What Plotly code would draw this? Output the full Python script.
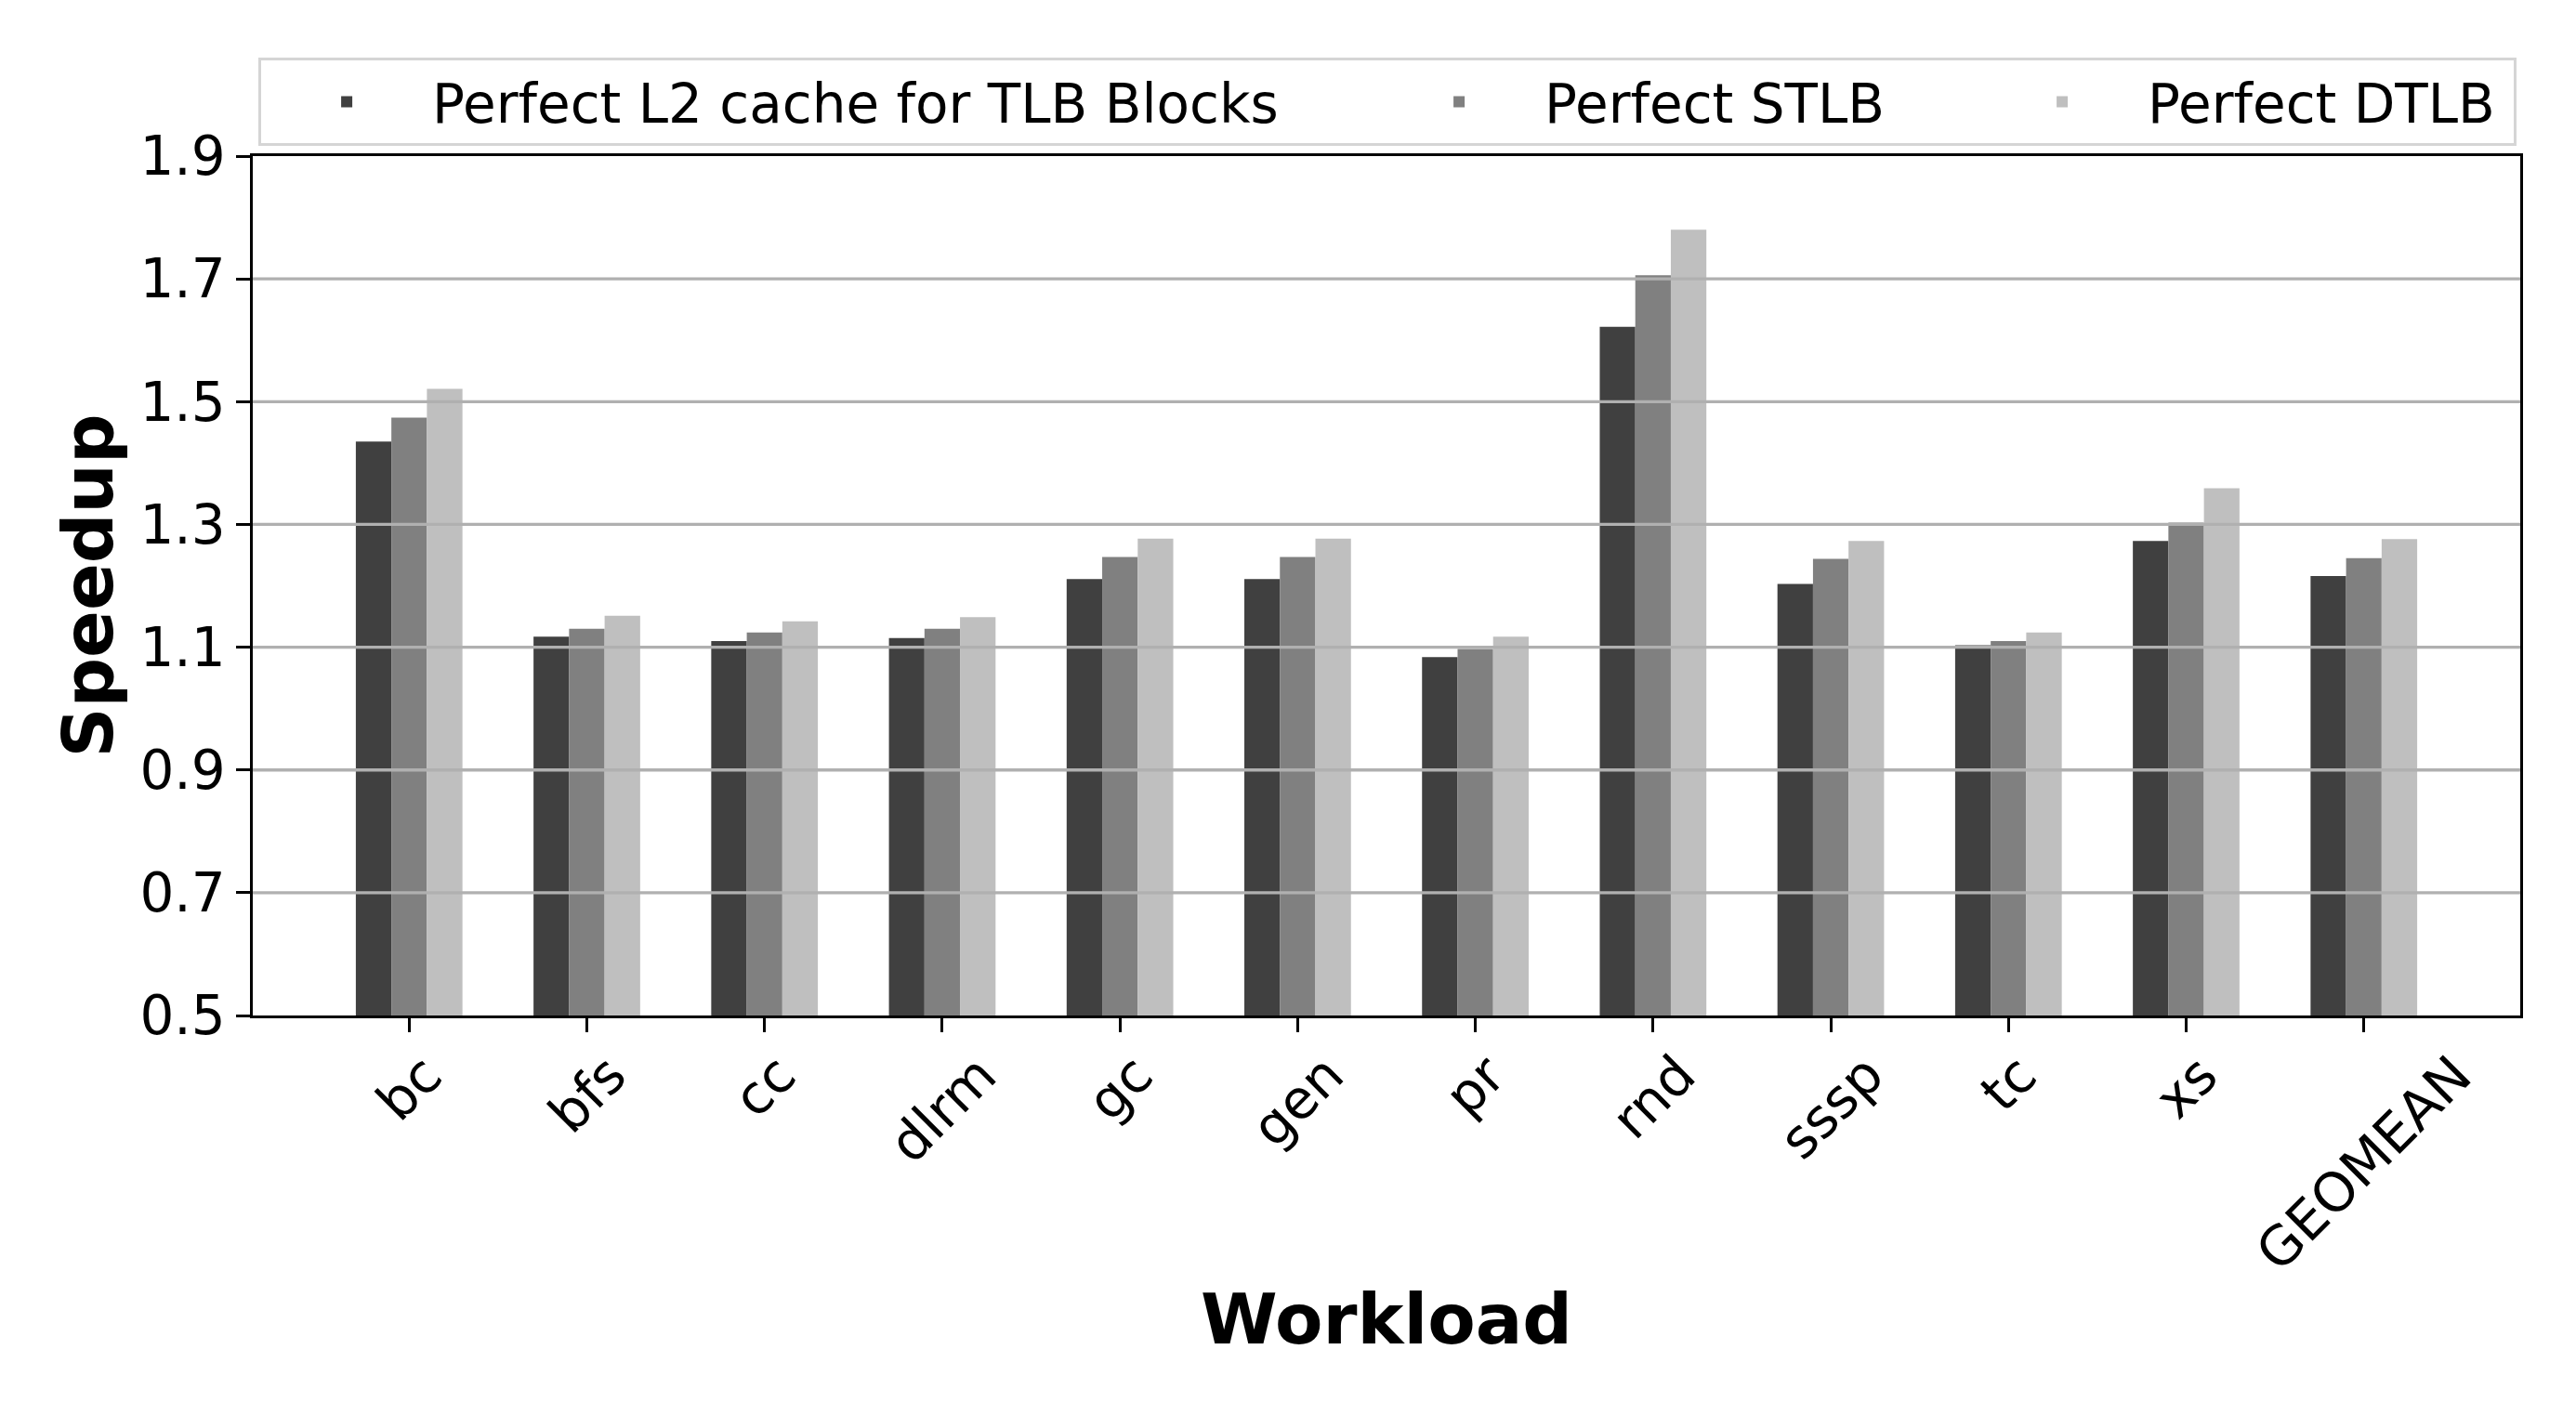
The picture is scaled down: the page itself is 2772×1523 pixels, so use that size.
import plotly.graph_objects as go

categories = ["bc", "bfs", "cc", "dlrm", "gc", "gen", "pr", "rnd", "sssp", "tc", "xs", "GEOMEAN"]
perfect_l2 = [1.435, 1.117, 1.110, 1.115, 1.211, 1.211, 1.084, 1.622, 1.203, 1.103, 1.273, 1.216]
perfect_stlb = [1.474, 1.130, 1.124, 1.130, 1.247, 1.247, 1.097, 1.706, 1.244, 1.110, 1.303, 1.245]
perfect_dtlb = [1.521, 1.151, 1.142, 1.149, 1.277, 1.277, 1.117, 1.780, 1.273, 1.124, 1.359, 1.276]
series_names = ["Perfect L2 cache for TLB Blocks", "Perfect STLB", "Perfect DTLB"]
series_colors = ["#404040", "#808080", "#bfbfbf"]
legend_widths = [1008, 460, 389]
y_ticks = [0.5, 0.7, 0.9, 1.1, 1.3, 1.5, 1.7, 1.9]
y_range = [0.5, 1.9]
x_range = [-0.88, 11.88]

FONT = "DejaVu Sans"
TICK_SIZE = 58
LABEL_SIZE = 75
LW = 3.33

fig = go.Figure()
for name, vals, color, lw in zip(series_names, [perfect_l2, perfect_stlb, perfect_dtlb], series_colors, legend_widths):
    fig.add_trace(go.Bar(
        x=categories, y=vals, name=name,
        marker=dict(color=color, line=dict(width=0)),
        legendwidth=lw,
    ))

# gridlines drawn above the bars (as in the reference)
for t in y_ticks:
    if y_range[0] < t < y_range[1]:
        fig.add_shape(type="line", xref="paper", x0=0, x1=1, yref="y", y0=t, y1=t,
                      line=dict(color="#b0b0b0", width=LW), layer="above")

# centred, rotated category labels
for c in categories:
    fig.add_annotation(x=c, xref="x", y=0, yref="paper", text=c, showarrow=False,
                       textangle=-45, xanchor="center", yanchor="top", yshift=-27,
                       font=dict(family=FONT, size=TICK_SIZE, color="black"))

fig.update_layout(
    width=2772, height=1523, autosize=False,
    margin=dict(l=272, r=60, t=168, b=430),
    paper_bgcolor="white", plot_bgcolor="white",
    barmode="group", bargap=0.4, bargroupgap=0,
    font=dict(family=FONT, size=TICK_SIZE, color="black"),
    legend=dict(
        orientation="h", x=0.0025, xanchor="left", y=1.063, yanchor="middle",
        font=dict(family=FONT, size=TICK_SIZE, color="black"),
        bgcolor="white", bordercolor="#d5d5d5", borderwidth=3,
        itemwidth=174, traceorder="normal",
    ),
    showlegend=True,
)
fig.update_xaxes(
    range=x_range, showgrid=False, showticklabels=False,
    ticks="outside", ticklen=14.6, tickwidth=LW, tickcolor="black",
    showline=True, linecolor="black", linewidth=LW, mirror=True,
    title=dict(text="Workload", font=dict(family=FONT, size=LABEL_SIZE, color="black", weight="bold"), standoff=284),
)
fig.update_yaxes(
    range=y_range, tickvals=y_ticks, tickformat=".1f", showgrid=False, zeroline=False,
    ticks="outside", ticklen=14.6, tickwidth=LW, tickcolor="black",
    tickfont=dict(family=FONT, size=TICK_SIZE, color="black"),
    showline=True, linecolor="black", linewidth=LW, mirror=True,
    title=dict(text="Speedup", font=dict(family=FONT, size=LABEL_SIZE, color="black", weight="bold"), standoff=5),
)

fig.write_html("out.html")
